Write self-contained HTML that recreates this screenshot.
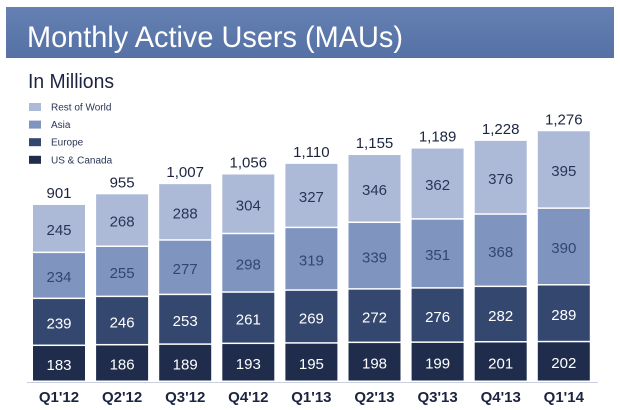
<!DOCTYPE html>
<html><head><meta charset="utf-8"><style>
body{margin:0;background:#fff;width:620px;height:405px;overflow:hidden;font-family:"Liberation Sans",sans-serif}
</style></head><body>
<svg width="620" height="405" xmlns="http://www.w3.org/2000/svg">
<defs><linearGradient id="hg" x1="0" y1="0" x2="0" y2="1"><stop offset="0" stop-color="#6581b3"/><stop offset="1" stop-color="#5571a5"/></linearGradient></defs>
<rect x="6" y="7" width="608" height="51" fill="url(#hg)"/>
<text x="27" y="47" font-size="30" fill="#fff" textLength="376" lengthAdjust="spacingAndGlyphs">Monthly Active Users (MAUs)</text>
<text x="28" y="88" font-size="20" fill="#1c2540" textLength="86" lengthAdjust="spacingAndGlyphs">In Millions</text>
<g id="legend"></g>
<line x1="27" y1="382.5" x2="598" y2="382.5" stroke="#c8cfdf" stroke-width="1"/>
<g id="bars"></g>
</svg>
<script>
const categories=["Q1'12","Q2'12","Q3'12","Q4'12","Q1'13","Q2'13","Q3'13","Q4'13","Q1'14"];
const usCanada=[183,186,189,193,195,198,199,201,202];
const europe=[239,246,253,261,269,272,276,282,289];
const asia=[234,255,277,298,319,339,351,368,390];
const restOfWorld=[245,268,288,304,327,346,362,376,395];
const totalLabels=["901","955","1,007","1,056","1,110","1,155","1,189","1,228","1,276"];
const seriesNames=["US & Canada","Europe","Asia","Rest of World"];
const series=[usCanada,europe,asia,restOfWorld];
const colors=["#1f2c4b","#34476f","#7f95c0","#adbad7"];
const textColors=["#fff","#fff","#33466f","#2a3556"];
const NS="http://www.w3.org/2000/svg";
const base=382, k=0.1965, x0=33, pitch=63.1, bw=52;
const yPos=v=>base-v*k;
const xPos=i=>x0+i*pitch;
const bars=document.getElementById('bars');
function mk(tag,attrs,parent){const e=document.createElementNS(NS,tag);for(const a in attrs)e.setAttribute(a,attrs[a]);parent.appendChild(e);return e;}
categories.forEach((c,i)=>{
  let cum=0;
  series.forEach((s,j)=>{
    const y1=yPos(cum), y2=yPos(cum+s[i]);
    const r=mk('rect',{x:xPos(i),y:y2,width:bw,height:y1-y2-(j>0||true?1.5:0),fill:colors[j]},bars);
    
    
    const t=mk('text',{x:xPos(i)+bw/2,y:(y1+y2)/2+6,'text-anchor':'middle','font-size':15,fill:textColors[j]},bars);
    t.textContent=s[i];
    
    
    cum+=s[i];
  });
  const tt=mk('text',{x:xPos(i)+bw/2,y:yPos(cum)-7,'text-anchor':'middle','font-size':15,fill:'#1c2540'},bars);
  tt.textContent=totalLabels[i];
  
  
  const xl=mk('text',{x:xPos(i)+bw/2,y:402,'text-anchor':'middle','font-size':15,'font-weight':'bold',fill:'#1c2540'},bars);
  xl.textContent=c;
  
  
});
const lg=document.getElementById('legend');
[3,2,1,0].forEach((j,n)=>{
  const cy=107+n*17.6;
  const r=mk('rect',{x:29,y:cy-4,width:12,height:8,fill:colors[j]},lg);
  
  
  const t=mk('text',{x:51,y:cy+3.5,'font-size':10,fill:'#2a3556'},lg);
  t.textContent=seriesNames[j];
  
  
});
</script>
</body></html>
